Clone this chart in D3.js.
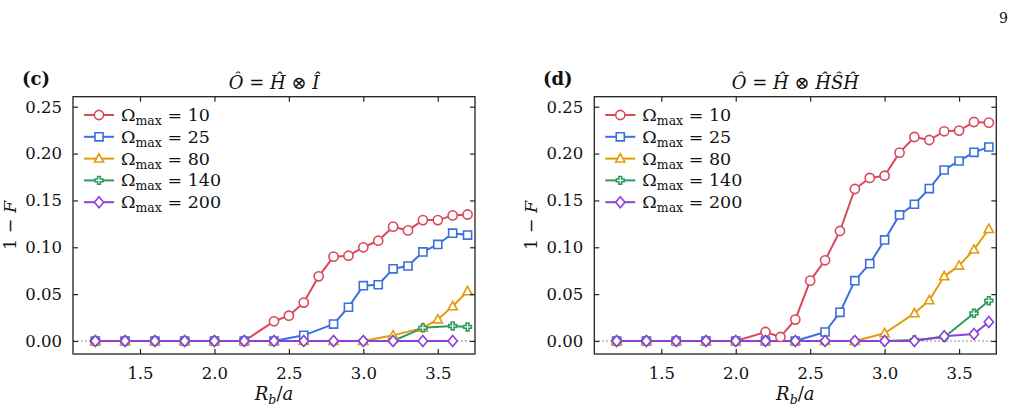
<!DOCTYPE html>
<html>
<head>
<meta charset="utf-8">
<script src="https://cdn.jsdelivr.net/npm/d3@7"></script>
<style>
  body { margin: 0; background: #fff; }
  text { font-family: "DejaVu Serif", serif; fill: #111; }
</style>
</head>
<body>
<div id="fig"></div>
<script>
// legend / series labels
const omegaLabels = ["10", "25", "80", "140", "200"];
const xTicks = [1.5, 2.0, 2.5, 3.0, 3.5];
const yTicks = [0.00, 0.05, 0.10, 0.15, 0.20, 0.25];

// panel (c): O = H (x) I
const c10_x = [1.2,1.4,1.6,1.8,2.0,2.2,2.4,2.5,2.6,2.7,2.8,2.9,3.0,3.1,3.2,3.3,3.4,3.5,3.6,3.7];
const c10_y = [0,0,0,0,0,0,0.021,0.027,0.041,0.069,0.090,0.091,0.100,0.107,0.122,0.118,0.129,0.129,0.134,0.135];
const c25_x = [1.2,1.4,1.6,1.8,2.0,2.2,2.4,2.6,2.8,2.9,3.0,3.1,3.2,3.3,3.4,3.5,3.6,3.7];
const c25_y = [0,0,0,0,0,0,0,0.006,0.018,0.036,0.059,0.060,0.077,0.080,0.095,0.103,0.115,0.113];
const c80_x = [1.2,1.4,1.6,1.8,2.0,2.2,2.4,2.6,2.8,3.0,3.2,3.4,3.5,3.6,3.7];
const c80_y = [0,0,0,0,0,0,0,0,0,0,0.006,0.014,0.023,0.037,0.053];
const c140_x = [1.2,1.4,1.6,1.8,2.0,2.2,2.4,2.6,2.8,3.0,3.2,3.4,3.6,3.7];
const c140_y = [0,0,0,0,0,0,0,0,0,0,0,0.014,0.016,0.015];
const c200_x = [1.2,1.4,1.6,1.8,2.0,2.2,2.4,2.6,2.8,3.0,3.2,3.4,3.6];
const c200_y = [0,0,0,0,0,0,0,0,0,0,0,0,0];

// panel (d): O = H (x) HSH
const d10_x = [1.2,1.4,1.6,1.8,2.0,2.2,2.3,2.4,2.5,2.6,2.7,2.8,2.9,3.0,3.1,3.2,3.3,3.4,3.5,3.6,3.7];
const d10_y = [0,0,0,0,0,0.0096,0.0043,0.0228,0.0644,0.0861,0.1174,0.1622,0.174,0.1764,0.201,0.2177,0.2145,0.2238,0.2245,0.2337,0.233];
const d25_x = [1.2,1.4,1.6,1.8,2.0,2.2,2.4,2.6,2.7,2.8,2.9,3.0,3.1,3.2,3.3,3.4,3.5,3.6,3.7];
const d25_y = [0,0,0,0,0,0,0,0.0096,0.0306,0.0644,0.0825,0.1078,0.1345,0.1459,0.1626,0.1825,0.1921,0.2013,0.207];
const d80_x = [1.2,1.4,1.6,1.8,2.0,2.2,2.4,2.6,2.8,3.0,3.2,3.3,3.4,3.5,3.6,3.7];
const d80_y = [0,0,0,0,0,0,0,0,0,0.0082,0.0295,0.0434,0.069,0.0804,0.0975,0.1195];
const d140_x = [1.2,1.4,1.6,1.8,2.0,2.2,2.4,2.6,2.8,3.0,3.2,3.4,3.6,3.7];
const d140_y = [0,0,0,0,0,0,0,0,0,0,0.001,0.004,0.0295,0.043];
const d200_x = [1.2,1.4,1.6,1.8,2.0,2.2,2.4,2.6,2.8,3.0,3.2,3.4,3.6,3.7];
const d200_y = [0,0,0,0,0,0,0,0,0,0,0,0.005,0.0075,0.0203];

// styles
const colors = ["#d9485c", "#3b6fe0", "#e39b0b", "#2b9b5e", "#8c40d8"];
const shapes = ["circle", "square", "triangle", "plus", "diamond"];

const W = 1015, H = 413;
const svg = d3.select("#fig").append("svg")
  .attr("width", W).attr("height", H);

// page number
svg.append("text").attr("x", 1008).attr("y", 23)
  .attr("text-anchor", "end").style("font-size", "14px").text("9");

function markerPath(shape) {
  const s = 4.6;
  if (shape == "circle") return d3.symbol(d3.symbolCircle, Math.PI * s * s)();
  if (shape == "square") return `M${-s*0.88},${-s*0.88}H${s*0.88}V${s*0.88}H${-s*0.88}Z`;
  if (shape == "triangle") return `M0,${-s*1.05}L${s*1.0},${s*0.75}L${-s*1.0},${s*0.75}Z`;
  if (shape == "diamond") return `M0,${-s*1.2}L${s*1.0},0L0,${s*1.2}L${-s*1.0},0Z`;
  // filled plus ("P"), drawn as outline
  const a = s * 0.3, b = s * 0.85;
  return `M${-a},${-b}H${a}V${-a}H${b}V${a}H${a}V${b}H${-a}V${a}H${-b}V${-a}H${-a}Z`;
}

function drawPanel(opt) {
  const m = {left: opt.left, top: 96.7, w: 402, h: 257.3};
  const g = svg.append("g").attr("transform", `translate(${m.left},${m.top})`);

  const x = d3.scaleLinear().domain([1.05, 3.75]).range([0, m.w]);
  const y = d3.scaleLinear().domain([-0.0139, 0.2607]).range([m.h, 0]);

  // dotted zero line
  g.append("line")
    .attr("x1", 0).attr("x2", m.w)
    .attr("y1", y(0)).attr("y2", y(0))
    .attr("stroke", "#9a9a9a").attr("stroke-width", 1.3)
    .attr("stroke-dasharray", "1.5,2.5");

  const line = d3.line().x(d => x(d[0])).y(d => y(d[1]));

  opt.series.forEach((s, i) => {
    const pts = s.x.map((v, k) => [v, s.y[k]]);
    g.append("path").datum(pts)
      .attr("d", line)
      .attr("fill", "none")
      .attr("stroke", colors[i])
      .attr("stroke-width", 2)
      .attr("stroke-linejoin", "round");
  });
  opt.series.forEach((s, i) => {
    const pts = s.x.map((v, k) => [v, s.y[k]]);
    g.selectAll(null).data(pts).enter().append("path")
      .attr("d", markerPath(shapes[i]))
      .attr("transform", d => `translate(${x(d[0])},${y(d[1])})`)
      .attr("fill", "#fff")
      .attr("stroke", colors[i])
      .attr("stroke-width", 1.6);
  });

  // axes with inward ticks on all sides
  const tl = 5;
  const fs = "16.5px";
  const xb = g.append("g").attr("transform", `translate(0,${m.h})`)
    .call(d3.axisBottom(x).tickValues(xTicks).tickSizeInner(-tl).tickSizeOuter(0)
      .tickPadding(tl + 8).tickFormat(d3.format(".1f")));
  const xt = g.append("g")
    .call(d3.axisTop(x).tickValues(xTicks).tickSizeInner(-tl).tickSizeOuter(0).tickFormat(""));
  const yl = g.append("g")
    .call(d3.axisLeft(y).tickValues(yTicks).tickSizeInner(-tl).tickSizeOuter(0)
      .tickPadding(tl + 6).tickFormat(d3.format(".2f")));
  const yr = g.append("g").attr("transform", `translate(${m.w},0)`)
    .call(d3.axisRight(y).tickValues(yTicks).tickSizeInner(-tl).tickSizeOuter(0).tickFormat(""));
  [xb, xt, yl, yr].forEach(a => {
    a.select(".domain").remove();
    a.selectAll("line").attr("stroke", "#222").attr("stroke-width", 1.2);
    a.selectAll("text").style("font-size", fs)
      .style("font-family", "'DejaVu Serif', serif").attr("fill", "#111");
  });

  g.append("rect").attr("width", m.w).attr("height", m.h)
    .attr("fill", "none").attr("stroke", "#222").attr("stroke-width", 1.3);

  // legend
  const lg = g.append("g");
  omegaLabels.forEach((lab, i) => {
    const ly = 18.3 + i * 21.8;
    lg.append("line").attr("x1", 11).attr("x2", 41).attr("y1", ly).attr("y2", ly)
      .attr("stroke", colors[i]).attr("stroke-width", 2);
    lg.append("path").attr("d", markerPath(shapes[i]))
      .attr("transform", `translate(26,${ly})`)
      .attr("fill", "#fff").attr("stroke", colors[i]).attr("stroke-width", 1.6);
    const t = lg.append("text").attr("x", 48).attr("y", ly + 6).style("font-size", "17.5px");
    t.append("tspan").text("Ω");
    t.append("tspan").attr("dy", 4).style("font-size", "12.5px").text("max");
    t.append("tspan").attr("dy", -4).text(" = " + lab);
  });

  // title
  const tt = svg.append("text")
    .attr("x", m.left + m.w / 2).attr("y", 89)
    .attr("text-anchor", "middle").style("font-size", "18px");
  opt.title.forEach(p => {
    tt.append("tspan").style("font-style", p[1] ? "italic" : "normal").text(p[0]);
  });

  // panel label
  svg.append("text").attr("x", opt.labelX).attr("y", 85)
    .style("font-size", "18px").style("font-weight", "bold").text(opt.label);

  // y label
  const yt = svg.append("text")
    .attr("transform", `translate(${m.left - 57},${m.top + m.h / 2}) rotate(-90)`)
    .attr("text-anchor", "middle").style("font-size", "17.5px");
  yt.append("tspan").text("1 − ");
  yt.append("tspan").style("font-style", "italic").text("F");

  // x label
  const xl = svg.append("text")
    .attr("x", m.left + m.w / 2).attr("y", 400)
    .attr("text-anchor", "middle").style("font-size", "18px");
  xl.append("tspan").style("font-style", "italic").text("R");
  xl.append("tspan").style("font-style", "italic").style("font-size", "12.5px").attr("dy", 4).text("b");
  xl.append("tspan").attr("dy", -4).text("/");
  xl.append("tspan").style("font-style", "italic").text("a");
}

drawPanel({
  left: 73, label: "(c)", labelX: 22,
  title: [["Ô", true], [" = ", false], ["Ĥ", true], [" ⊗ ", false], ["Î", true]],
  series: [
    {x: c10_x, y: c10_y}, {x: c25_x, y: c25_y}, {x: c80_x, y: c80_y},
    {x: c140_x, y: c140_y}, {x: c200_x, y: c200_y}
  ]
});
drawPanel({
  left: 594.3, label: "(d)", labelX: 543,
  title: [["Ô", true], [" = ", false], ["Ĥ", true], [" ⊗ ", false], ["ĤŜĤ", true]],
  series: [
    {x: d10_x, y: d10_y}, {x: d25_x, y: d25_y}, {x: d80_x, y: d80_y},
    {x: d140_x, y: d140_y}, {x: d200_x, y: d200_y}
  ]
});
</script>
</body>
</html>
